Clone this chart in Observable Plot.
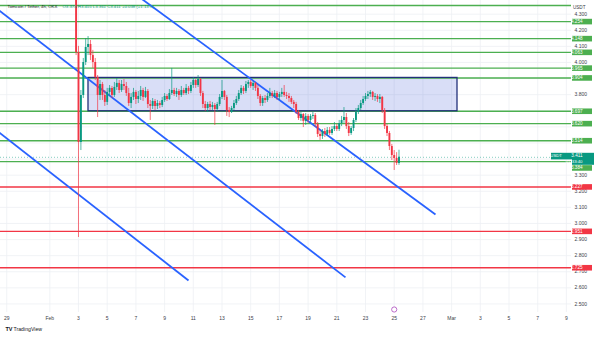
<!DOCTYPE html>
<html><head><meta charset="utf-8">
<script src="https://cdn.jsdelivr.net/npm/d3@7"></script>
<script src="https://cdn.jsdelivr.net/npm/@observablehq/plot@0.6"></script>
<style>
body{margin:0;background:#fff;font-family:"Liberation Sans",Arial,sans-serif}
#chart{width:600px;height:338px;overflow:hidden;position:relative}
</style></head><body><div id="chart"></div>
<script>
// ---- data ----
const titleName = "Tomcoin / Tether, 4h, OKX";
const titleOHLC = "O3.374 H3.455 L3.361 C3.411 +0.038 (+1.13%)";
const symbolName = "TOMOUSDT";
const countdown = "01:33:40";

const candleStart = "2025-02-02T20:00Z"; // 4h candles
const firstOpen = 4.55;
const closes = [4.062,3.503,3.795,4.000,4.093,4.112,4.043,4.000,3.907,3.795,
3.863,3.795,3.752,3.814,3.839,3.795,3.845,3.870,3.826,3.863,
3.851,3.807,3.745,3.783,3.814,3.770,3.789,3.826,3.783,3.820,
3.739,3.727,3.758,3.727,3.745,3.733,3.764,3.789,3.770,3.807,
3.826,3.801,3.820,3.795,3.826,3.807,3.839,3.820,3.857,3.888,
3.857,3.894,3.807,3.739,3.714,3.739,3.720,3.733,3.708,3.739,
3.783,3.820,3.783,3.702,3.689,3.714,3.745,3.770,3.807,3.839,
3.820,3.863,3.876,3.851,3.870,3.839,3.789,3.745,3.776,3.764,
3.789,3.807,3.789,3.807,3.783,3.801,3.814,3.795,3.789,3.776,
3.752,3.739,3.689,3.652,3.677,3.634,3.665,3.640,3.665,3.671,
3.615,3.553,3.540,3.571,3.553,3.578,3.559,3.584,3.602,3.584,
3.621,3.640,3.658,3.602,3.559,3.590,3.640,3.689,3.714,3.745,
3.770,3.789,3.801,3.814,3.783,3.789,3.770,3.783,3.702,3.602,
3.559,3.478,3.422,3.404,3.373,3.411];
const highs = [4.620,4.100,3.826,4.025,4.149,4.161,4.137,4.075,4.025,3.919,
3.888,3.876,3.826,3.839,3.857,3.851,3.876,3.901,3.888,3.888,
3.894,3.876,3.839,3.807,3.839,3.826,3.820,3.851,3.839,3.845,
3.832,3.764,3.776,3.770,3.764,3.758,3.783,3.807,3.801,3.832,
3.963,3.839,3.839,3.832,3.851,3.839,3.863,3.851,3.876,3.907,
3.894,3.919,3.901,3.820,3.758,3.752,3.758,3.752,3.745,3.752,
3.801,3.888,3.826,3.795,3.720,3.727,3.764,3.789,3.826,3.857,
3.851,3.882,3.888,3.888,3.882,3.876,3.857,3.801,3.789,3.795,
3.807,3.839,3.820,3.826,3.820,3.814,3.839,3.857,3.814,3.807,
3.789,3.764,3.752,3.702,3.689,3.683,3.683,3.677,3.677,3.689,
3.683,3.627,3.578,3.584,3.590,3.596,3.596,3.602,3.627,3.615,
3.640,3.665,3.720,3.683,3.627,3.602,3.652,3.714,3.733,3.764,
3.789,3.807,3.820,3.826,3.820,3.807,3.801,3.801,3.789,3.714,
3.615,3.571,3.491,3.453,3.440,3.455];
const lows = [4.043,2.913,3.453,3.776,3.981,4.043,4.012,3.963,3.888,3.658,
3.764,3.764,3.727,3.733,3.789,3.776,3.783,3.826,3.807,3.814,
3.826,3.789,3.727,3.714,3.764,3.739,3.745,3.764,3.758,3.776,
3.714,3.640,3.708,3.702,3.708,3.714,3.720,3.752,3.758,3.764,
3.795,3.789,3.783,3.764,3.783,3.795,3.795,3.801,3.807,3.839,
3.839,3.845,3.789,3.714,3.696,3.689,3.702,3.702,3.609,3.696,
3.727,3.770,3.764,3.665,3.658,3.683,3.702,3.733,3.758,3.795,
3.801,3.807,3.839,3.839,3.826,3.820,3.770,3.727,3.727,3.745,
3.752,3.776,3.776,3.776,3.764,3.764,3.783,3.783,3.770,3.752,
3.739,3.714,3.677,3.640,3.634,3.596,3.609,3.621,3.627,3.646,
3.596,3.534,3.516,3.522,3.534,3.540,3.547,3.547,3.571,3.571,
3.571,3.602,3.621,3.584,3.540,3.547,3.571,3.627,3.677,3.702,
3.733,3.758,3.770,3.783,3.764,3.758,3.752,3.745,3.683,3.584,
3.540,3.453,3.391,3.329,3.360,3.361];

const greenLevels = [4.354,4.254,4.148,4.063,3.965,3.904,3.697,3.620,3.514,3.384];
const greenLabelLevels = [4.254,4.148,4.063,3.965,3.904,3.697,3.620,3.514];
const shiftedGreenLabel = [3.384];
const redLevels = [3.227,2.951,2.725];
const currentPrice = [3.411];

const boxStart = ["2025-02-03T16:43Z"], boxEnd = ["2025-03-01T09:51Z"];
const boxTop = [3.904], boxBottom = [3.697];

const trendStartTimes = ["2025-02-06T14:58Z","2025-01-28T05:10Z","2025-01-28T05:10Z"];
const trendStartPrices = [4.446,4.341,3.583];
const trendEndTimes = ["2025-02-27T21:04Z","2025-02-21T14:33Z","2025-02-10T15:59Z"];
const trendEndPrices = [3.056,2.665,2.646];

const gridTicks = [2.5,2.6,2.7,2.8,2.9,3.0,3.1,3.2,3.3,3.4,3.5,3.6,3.7,3.8,3.9,4.0,4.1,4.2,4.3];
// tick labels left visible beside the level labels
const yTickLabels = [2.5,2.6,2.7,2.8,2.9,3.0,3.1,3.2,3.3,3.8,4.0,4.1,4.2,4.3];
const xTickDates = ["2025-01-29","2025-02-01","2025-02-03","2025-02-05","2025-02-07","2025-02-09","2025-02-11","2025-02-13","2025-02-15","2025-02-17","2025-02-19","2025-02-21","2025-02-23","2025-02-25","2025-02-27","2025-03-01","2025-03-03","2025-03-05","2025-03-07","2025-03-09"];
const xTickLabels = ["29","Feb","3","5","7","9","11","13","15","17","19","21","23","25","27","Mar","3","5","7","9"];
const eventDate = ["2025-02-25"];

const xDomain = ["2025-01-28T13:33Z","2025-03-09T08:31Z"];
const yDomain = [2.447,4.385];

// ---- build ----
const t0 = Date.parse(candleStart);
const candles = closes.map((c,i)=>({
  t: new Date(t0 + i*4*3600e3),
  o: i ? closes[i-1] : firstOpen, h: highs[i], l: lows[i], c
}));
const up = "#089981", down = "#f23645", green = "#4caf50", blue = "#2962ff";
const candleColor = d => d.c >= d.o ? up : down;
const tickDates = xTickDates.map(d => new Date(d + "T00:00Z"));
const tickLabel = new Map(tickDates.map((d,i)=>[+d, xTickLabels[i]]));
const W = 600, mR = 29, frameW = W - mR;
const idx3 = [0,1,2];
const fmt = d3.format(".3f");

const plot = Plot.plot({
  width: W, height: 338,
  marginLeft: 0, marginRight: mR, marginTop: 0, marginBottom: 26,
  style: {fontFamily: "'Liberation Sans', Arial, sans-serif", fontSize: "5px", color: "#3b3e48", background: "#ffffff", overflow: "visible"},
  x: {type: "utc", domain: xDomain.map(d=>new Date(d)), ticks: tickDates, tickFormat: d => tickLabel.get(+d) ?? "", tickSize: 0, tickPadding: 4, label: null},
  y: {domain: yDomain, axis: "right", ticks: yTickLabels, tickFormat: fmt, tickSize: 0, tickPadding: 3, label: null},
  marks: [
    Plot.ruleX(tickDates, {x: d=>d, stroke: "#eef0f4", strokeWidth: 0.8}),
    Plot.ruleY(gridTicks, {y: d=>d, stroke: "#eef0f4", strokeWidth: 0.8}),
    Plot.rect(idx3.slice(0,1), {x1: i=>new Date(boxStart[i]), x2: i=>new Date(boxEnd[i]), y1: i=>boxBottom[i], y2: i=>boxTop[i], fill: "#3f5bd8", fillOpacity: 0.2, clip: true}),
    Plot.ruleY(greenLevels, {y: d=>d, stroke: green, strokeWidth: 1.4}),
    Plot.ruleY(redLevels, {y: d=>d, stroke: down, strokeWidth: 1.4}),
    Plot.rect(idx3.slice(0,1), {x1: i=>new Date(boxStart[i]), x2: i=>new Date(boxEnd[i]), y1: i=>boxBottom[i], y2: i=>boxTop[i], fill: "none", stroke: "#22317a", strokeWidth: 1.3, clip: true}),
    Plot.ruleY(currentPrice, {y: d=>d, stroke: up, strokeOpacity: 0.7, strokeWidth: 0.7, strokeDasharray: "1,2"}),
    Plot.link(idx3, {x1: i=>new Date(trendStartTimes[i]), y1: i=>trendStartPrices[i], x2: i=>new Date(trendEndTimes[i]), y2: i=>trendEndPrices[i], stroke: blue, strokeWidth: 1.8, clip: true}),
    Plot.ruleX(candles, {x: "t", y1: "l", y2: "h", stroke: candleColor, strokeWidth: 0.7, clip: true}),
    Plot.ruleX(candles, {x: "t", y1: "o", y2: "c", stroke: candleColor, strokeWidth: 1.9, clip: true}),
    // right-axis label boxes
    Plot.ruleY(greenLabelLevels, {y: d=>d, stroke: green, strokeWidth: 5.6, insetLeft: frameW - 20, dx: 21}),
    Plot.text(greenLabelLevels, {y: d=>d, text: fmt, frameAnchor: "right", dx: 11, fill: "white", fontSize: 4.6}),
    Plot.ruleY(shiftedGreenLabel, {y: d=>d, stroke: green, strokeWidth: 5.6, insetLeft: frameW - 20, dx: 21, dy: 6.3}),
    Plot.text(shiftedGreenLabel, {y: d=>d, text: fmt, frameAnchor: "right", dx: 11, dy: 6.3, fill: "white", fontSize: 4.6}),
    Plot.ruleY(redLevels, {y: d=>d, stroke: down, strokeWidth: 5.6, insetLeft: frameW - 20, dx: 21}),
    Plot.text(redLevels, {y: d=>d, text: fmt, frameAnchor: "right", dx: 11, fill: "white", fontSize: 4.6}),
    Plot.ruleY(currentPrice, {y: d=>d, stroke: up, strokeWidth: 12, insetLeft: frameW - 22, dx: 23, dy: 1.5}),
    Plot.ruleY(currentPrice, {y: d=>d, stroke: up, strokeWidth: 6.6, insetLeft: frameW - 21, dx: 1, dy: -1.2}),
    Plot.text(currentPrice, {y: d=>d, text: fmt, frameAnchor: "right", dx: 11, dy: -1.6, fill: "white", fontSize: 4.6}),
    Plot.text(currentPrice, {y: d=>d, text: () => countdown, frameAnchor: "right", dx: 11, dy: 4.2, fill: "white", fontSize: 4.3}),
    Plot.text(currentPrice, {y: d=>d, text: () => symbolName, frameAnchor: "right", dx: -9.5, dy: -1.6, fill: "white", fontSize: 4.3}),
    Plot.text(["USDT"], {text: d=>d, frameAnchor: "top-right", dx: 14, dy: 5, fontSize: 4.6, fill: "#3b3e48"}),
    Plot.text([titleName], {text: d=>d, frameAnchor: "top-left", dx: 7, dy: 4, textAnchor: "start", fontSize: 4.3, fill: "#131722"}),
    Plot.text([titleOHLC], {text: d=>d, frameAnchor: "top-left", dx: 62, dy: 4, textAnchor: "start", fontSize: 4.3, fill: up}),
    Plot.dot(eventDate, {x: d=>new Date(d + "T00:00Z"), frameAnchor: "bottom", dy: -3, r: 2.6, stroke: "#ab47bc", strokeWidth: 0.8, fill: "white"}),
    Plot.text(["TV"], {text: d=>d, frameAnchor: "bottom-left", dx: 5, dy: 18, textAnchor: "start", fontSize: 5.5, fontWeight: "bold", fill: "#131722"}),
    Plot.text(["TradingView"], {text: d=>d, frameAnchor: "bottom-left", dx: 13, dy: 18, textAnchor: "start", fontSize: 5.2, fill: "#131722"})
  ]
});
document.getElementById("chart").appendChild(plot);
</script></body></html>
